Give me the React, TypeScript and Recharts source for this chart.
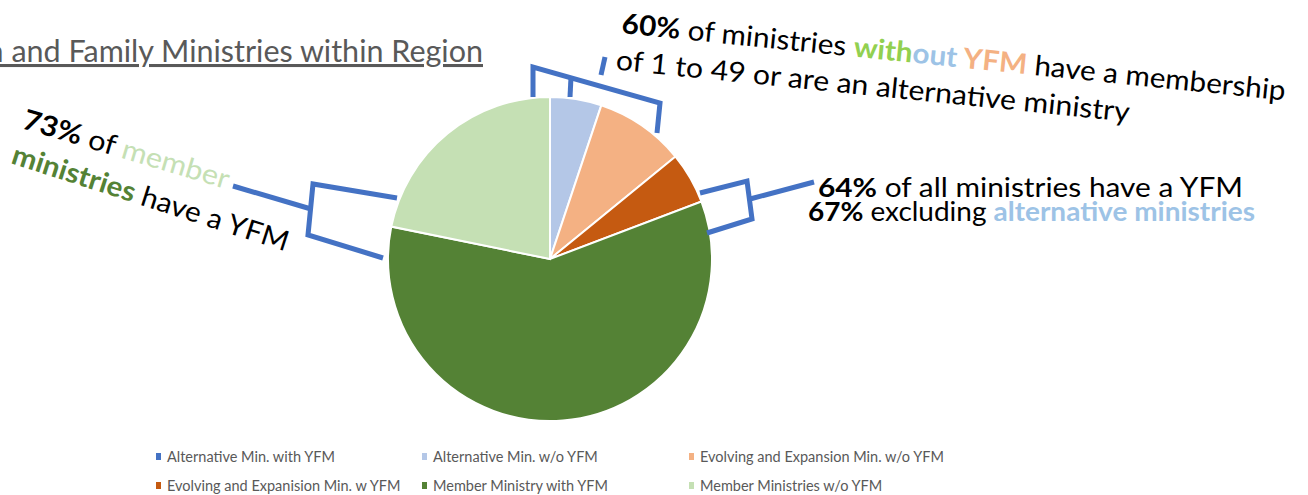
import { PieChart, Pie, Cell, Legend } from "recharts";

const CATEGORIES = [
  "Alternative Min. with YFM",
  "Alternative Min. w/o YFM",
  "Evolving and Expansion Min. w/o YFM",
  "Evolving and Expanision Min. w YFM",
  "Member Ministry with YFM",
  "Member Ministries w/o YFM",
];

// ministry counts per category
const COUNTS = [0, 4, 7, 4, 46, 17];

const COLORS = ["#4472c4", "#b4c7e7", "#f4b183", "#c55a11", "#548235", "#c5e0b4"];

const data = CATEGORIES.map((name, i) => ({ name, value: COUNTS[i] }));

const BLUE = "#4472c4";
const FONT = "Lato, 'Open Sans', sans-serif";

function LegendGrid() {
  return (
    <div
      style={{
        display: "grid",
        gridTemplateColumns: "266px 267px 300px",
        rowGap: 11,
        paddingLeft: 156,
        fontFamily: FONT,
        fontSize: 14.5,
        color: "#595959",
      }}
    >
      {CATEGORIES.map((name, i) => (
        <div key={name} style={{ display: "flex", alignItems: "center", height: 18 }}>
          <span
            style={{
              display: "inline-block",
              width: 5,
              height: 7,
              background: COLORS[i],
              marginRight: 6,
            }}
          />
          {name}
        </div>
      ))}
    </div>
  );
}

function Annotations() {
  return (
    <svg
      width={1308}
      height={495}
      style={{ position: "absolute", left: 0, top: 0, pointerEvents: "none" }}
    >
      {/* title, cut at the left edge like the slide */}
      <text
        x={483}
        y={62}
        textAnchor="end"
        fontFamily={FONT}
        fontSize={30.5}
        fill="#595959"
        textDecoration="underline"
      >
        Children and Family Ministries within Region
      </text>

      {/* brackets */}
      <g fill="none" stroke={BLUE} strokeWidth={5} strokeLinejoin="miter">
        <path d="M533,97 L533,67 L660,103 L657,133" />
        <path d="M571,77 L570,97" />
        <path d="M601,75 L605,57" />

        <path d="M397,198 L313,184 L308,235 L383,258" />
        <path d="M233,186 L311,209" />

        <path d="M700,193 L747,181 L752,219 L707,233" />
        <path d="M750,199 L814,182" />
      </g>

      {/* top note */}
      <g transform="translate(621,33) rotate(5.8)" fontFamily={FONT} fontSize={28} fill="#000">
        <text x={0} y={0} textLength={667} lengthAdjust="spacingAndGlyphs">
          <tspan fontWeight={700}>60%</tspan>
          <tspan> of ministries </tspan>
          <tspan fontWeight={700} fill="#92d050">with</tspan>
          <tspan fontWeight={700} fill="#9dc3e6">out</tspan>
          <tspan fontWeight={700} fill="#f4b183"> YFM</tspan>
          <tspan> have a membership</tspan>
        </text>
        <text x={-2} y={37} textLength={516} lengthAdjust="spacingAndGlyphs">
          of 1 to 49 or are an alternative ministry
        </text>
      </g>

      {/* left note */}
      <g fontFamily={FONT} fontSize={28} fill="#000">
        <text
          transform="translate(21,128) rotate(16.6)"
          textLength={214}
          lengthAdjust="spacingAndGlyphs"
        >
          <tspan fontWeight={700}>73%</tspan>
          <tspan> of </tspan>
          <tspan fill="#c5e0b4">member</tspan>
        </text>
        <text
          transform="translate(10,163) rotate(17.8)"
          textLength={289}
          lengthAdjust="spacingAndGlyphs"
        >
          <tspan fontWeight={700} fill="#548235">ministries</tspan>
          <tspan> have a YFM</tspan>
        </text>
      </g>

      {/* right note */}
      <g fontFamily={FONT} fontSize={26} fill="#000">
        <text x={818} y={197} textLength={425} lengthAdjust="spacingAndGlyphs">
          <tspan fontWeight={700}>64%</tspan>
          <tspan> of all ministries have a YFM</tspan>
        </text>
        <text x={808} y={221} textLength={447} lengthAdjust="spacingAndGlyphs">
          <tspan fontWeight={700}>67%</tspan>
          <tspan> excluding </tspan>
          <tspan fontWeight={700} fill="#9dc3e6">alternative ministries</tspan>
        </text>
      </g>
    </svg>
  );
}

export default function App() {
  return (
    <div style={{ position: "absolute", left: 0, top: 0, width: 1308, height: 495, background: "#fff" }}>
      <PieChart width={1308} height={495} margin={{ top: 0, right: 0, bottom: 0, left: 0 }}>
        <Pie
          data={data}
          dataKey="value"
          nameKey="name"
          cx={550}
          cy={259}
          outerRadius={162}
          startAngle={90}
          endAngle={-270}
          stroke="#ffffff"
          strokeWidth={2}
          isAnimationActive={false}
        >
          {data.map((_, i) => (
            <Cell key={`cell-${i}`} fill={COLORS[i]} />
          ))}
        </Pie>
        <Legend
          content={() => <LegendGrid />}
          wrapperStyle={{ position: "absolute", left: 0, top: 447, width: 1308 }}
        />
      </PieChart>
      <Annotations />
    </div>
  );
}
